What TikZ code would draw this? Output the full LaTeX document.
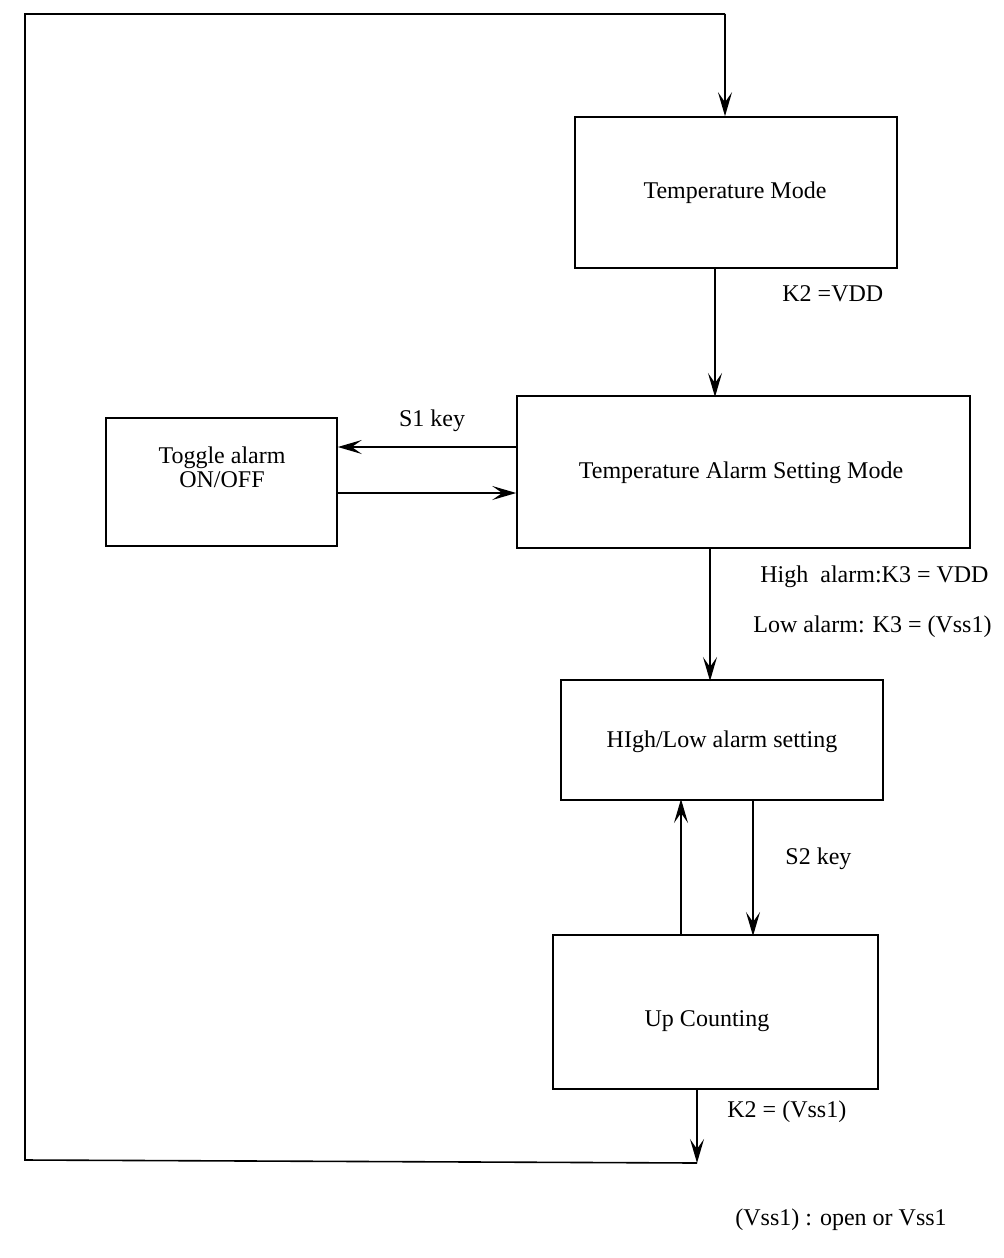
\documentclass[tikz,border=0pt]{standalone}
\usepackage{fontspec}
\setmainfont{Liberation Serif}
\usetikzlibrary{arrows.meta}
\begin{document}
\begin{tikzpicture}[x=0.5pt,y=-0.5pt,
  box/.style={draw,line width=0.8pt,inner sep=0pt},
  lab/.style={font=\fontsize{12}{14}\selectfont,inner sep=0pt},
  arr/.style={line width=0.7pt,-{Stealth[length=12pt,width=7pt,inset=5pt]}},
  ln/.style={line width=0.8pt}]
\useasboundingbox (0,0) rectangle (1004,1258);
% boxes
\node[box,minimum width=161pt,minimum height=75.5pt] (tm) at (736,192.5) {};
\node[lab] (tmt) at (735,193) {Temperature Mode};
\node[box,minimum width=226.5pt,minimum height=76pt] (tas) at (743.5,472) {};
\node[lab] (tast) at (741,473) {Temperature Alarm Setting Mode};
\node[box,minimum width=115.5pt,minimum height=64pt] (tog) at (221.5,482) {};
\node[lab,anchor=base] (togt1) at (222,463) {Toggle alarm};
\node[lab,anchor=base] (togt2) at (222,487) {ON/OFF};
\node[box,minimum width=161pt,minimum height=60pt] (hl) at (722,740) {};
\node[lab] (hlt) at (722,742) {HIgh/Low alarm setting};
\node[box,minimum width=162.5pt,minimum height=77pt] (uc) at (715.5,1012) {};
\node[lab] (uct) at (707,1021) {Up Counting};
% loop coordinates
\coordinate (tl) at (25,14);
\coordinate (tr) at (725,14);
\coordinate (bl) at (25,1160);
\coordinate (br) at (697,1163);
% connectors
\draw[ln] (br) -- (bl) -- (tl) -- (tr);
\draw[arr] (tr) -- (tr |- tm.north);
\draw[arr] (715,268) -- (715,397);
\node[lab,anchor=west] at (782,294) {K2 =VDD};
\draw[arr] (517,447) -- (tog.east |- 0,447);
\draw[arr] (337,493) -- (tas.west |- 0,493);
\node[lab] at (432,421) {S1 key};
\draw[arr] (710,548) -- (710,681);
\node[lab,anchor=west] at (760,577) {High \ alarm:K3 = VDD};
\node[lab,anchor=west] at (753,627) {Low alarm: K3 = (Vss1)};
\draw[arr] (681,935) -- (681,799);
\draw[arr] (753,800) -- (753,936);
\node[lab,anchor=west] at (785,859) {S2 key};
\draw[arr] (697,1089) -- (br);
\node[lab,anchor=west] at (727,1112) {K2 = (Vss1)};
\node[lab,anchor=west] at (735,1220) {(Vss1) : open or Vss1};
\end{tikzpicture}
\end{document}
